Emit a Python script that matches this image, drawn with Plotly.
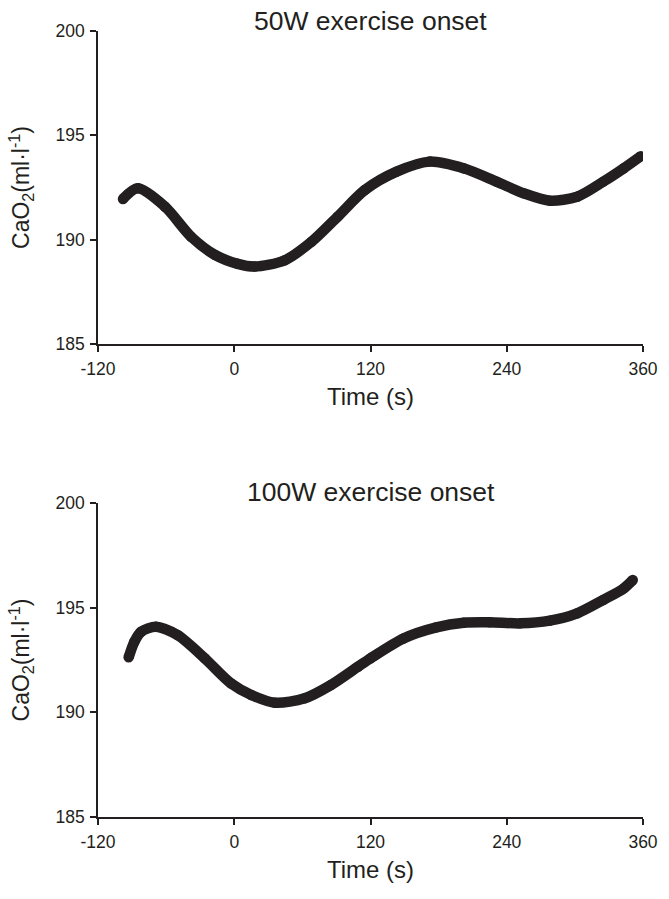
import plotly.graph_objects as go
from plotly.subplots import make_subplots

# 50W exercise onset
t_50 = [-98, -85, -61, -38, -17, 3, 18, 44, 68, 91, 115, 143, 172, 202, 231, 255, 278, 302, 325, 343, 358]
cao2_50 = [191.95, 192.46, 191.58, 190.14, 189.27, 188.84, 188.71, 189.0, 189.9, 191.1, 192.38,
           193.26, 193.74, 193.42, 192.78, 192.22, 191.87, 192.06, 192.78, 193.42, 194.0]

# 100W exercise onset
t_100 = [-93, -88, -82, -69, -50, -26, -3, 15, 36, 62, 85, 109, 120, 149, 178, 202, 225, 252, 278, 302, 325, 343, 351]
cao2_100 = [192.63, 193.37, 193.85, 194.09, 193.69, 192.58, 191.39, 190.83, 190.46, 190.67, 191.3, 192.18,
            192.58, 193.53, 194.06, 194.28, 194.3, 194.25, 194.38, 194.73, 195.37, 195.92, 196.32]

titles = ["50W exercise onset", "100W exercise onset"]
x_ticks = [-120, 0, 120, 240, 360]
y_ticks = [185, 190, 195, 200]

INK = "#231f20"
FONT = "Liberation Sans, Arial, sans-serif"

fig = make_subplots(rows=2, cols=1, vertical_spacing=0.2)

for i, (tx, vy) in enumerate([(t_50, cao2_50), (t_100, cao2_100)], start=1):
    fig.add_trace(go.Scatter(
        x=tx, y=vy, mode="lines+markers",
        line=dict(color=INK, width=10.5, shape="spline", smoothing=0.8),
        marker=dict(color=INK, size=10.5, symbol="circle"),
        showlegend=False, hoverinfo="skip"), row=i, col=1)

axis_common = dict(showline=True, linecolor=INK, linewidth=1.5, ticks="outside",
                   ticklen=6, tickwidth=1.5, tickcolor=INK, showgrid=False, zeroline=False,
                   tickfont=dict(family=FONT, size=17.5, color=INK))

for i in (1, 2):
    fig.update_xaxes(range=[-120, 360], tickvals=x_ticks, ticktext=[str(v) for v in x_ticks],
                     ticklabelstandoff=2,
                     title=dict(text="Time (s)", font=dict(family=FONT, size=24, color=INK), standoff=10),
                     row=i, col=1, **axis_common)
    fig.update_yaxes(range=[185, 200], tickvals=y_ticks, ticktext=[str(v) for v in y_ticks],
                     ticklabelstandoff=2,
                     title=dict(text="CaO<sub>2</sub>(ml·l<sup>-1</sup>)", font=dict(family=FONT, size=23, color=INK), standoff=19),
                     row=i, col=1, **axis_common)

fig.update_layout(
    width=669, height=899,
    margin=dict(l=98, r=26, t=31, b=82),
    paper_bgcolor="white", plot_bgcolor="white",
    xaxis=dict(domain=[0, 1]), xaxis2=dict(domain=[0, 1]),
    yaxis=dict(domain=[0.6018, 1.0]), yaxis2=dict(domain=[0.0, 0.3995]),
)

fig.layout.annotations = []
fig.add_annotation(text=titles[0], xref="paper", yref="paper", x=0.5, y=1.0, yshift=10,
                   xanchor="center", yanchor="middle", showarrow=False,
                   font=dict(family=FONT, size=26.5, color=INK))
fig.add_annotation(text=titles[1], xref="paper", yref="paper", x=0.5, y=0.3995, yshift=11,
                   xanchor="center", yanchor="middle", showarrow=False,
                   font=dict(family=FONT, size=26.5, color=INK))

fig.write_html("out.html")
